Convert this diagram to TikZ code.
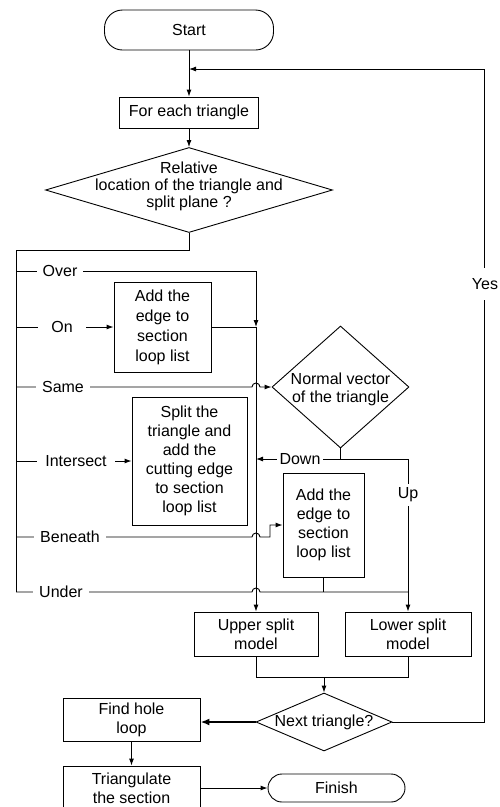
\documentclass[tikz,border=0pt]{standalone}
\usepackage{fontspec}
\setmainfont{Liberation Sans}
\usetikzlibrary{arrows.meta,shapes.geometric,calc}
\begin{document}
\begin{tikzpicture}[x=1pt,y=-1pt,
  font=\fontsize{16}{19}\selectfont,
  ln/.style={line width=0.9pt},
  arr/.style={ln,-{Latex[length=7pt,width=5pt]}},
  box/.style={draw,ln,inner sep=0pt,align=center},
  term/.style={box,rounded corners=18pt},
  dia/.style={draw,ln,diamond,inner sep=0pt},
  txt/.style={inner sep=0pt,align=center},
  lab/.style={fill=white,inner ysep=1pt,inner xsep=6pt},
]
\useasboundingbox (0,0) rectangle (499,807);
\clip (0,0) rectangle (499,807);

% nodes
\node[term,minimum width=169pt,minimum height=40pt] (start) at (189,30) {Start};
\node[box,minimum width=139pt,minimum height=31pt] (each) at (189,112.5) {For each triangle};
\node[dia,minimum width=287pt,minimum height=85pt] (rel) at (189,190) {};
\node[txt,font=\fontsize{16}{17}\selectfont] (relt) at (189,186) {Relative\\location of the triangle and\\split plane ?};
\node[box,minimum width=97pt,minimum height=90pt,font=\fontsize{16}{20}\selectfont] (add1) at (162.5,327) {Add the\\edge to\\section\\loop list};
\node[dia,minimum width=137pt,minimum height=122pt] (norm) at (340.5,387) {};
\node[txt,font=\fontsize{16}{18}\selectfont] (normt) at (340.5,389) {Normal vector\\of the triangle};
\node[box,minimum width=115pt,minimum height=128pt] (split) at (189.5,461) {Split the\\triangle and\\add the\\cutting edge\\to section\\loop list};
\node[box,minimum width=81pt,minimum height=104pt] (add2) at (323.5,525) {Add the\\edge to\\section\\loop list};
\node[box,minimum width=124pt,minimum height=44pt] (upper) at (256,634) {Upper split\\model};
\node[box,minimum width=126pt,minimum height=44pt] (lower) at (408,634) {Lower split\\model};
\node[dia,minimum width=136pt,minimum height=58pt] (next) at (324,722) {};
\node[txt] (nextt) at (324,722) {Next triangle?};
\node[box,minimum width=137pt,minimum height=43pt] (hole) at (131.5,719.5) {Find hole\\loop};
\node[box,minimum width=137pt,minimum height=44pt] (tri) at (131.5,788) {Triangulate\\the section};
\node[term,minimum width=137pt,minimum height=28pt,rounded corners=14pt] (fin) at (336.5,788) {Finish};

% coordinates
\coordinate (ret) at (189,69);
\coordinate (bt) at (189,250);
\coordinate (bl) at (16,250);
\coordinate (bb) at (16,592);
\coordinate (ov) at (16,271);
\coordinate (oc) at (256,271);
\coordinate (vj) at (256,327);
\coordinate (dj) at (340.5,459);
\coordinate (bj) at (270,537);
\coordinate (mj) at (324,677);
\coordinate (yr) at (484,722);

% connectors
\draw[ln] (start.south) -- (ret);
\draw[arr] (ret) -- (each.north);
\draw[arr] (each.south) -- (rel.north);
\draw[ln] (rel.south) -- (bt) -- (bl) -- (bb);

\draw[arr] (ov) -- (oc) -- (vj);
\draw[arr] (vj) -- (upper.north);
\draw[arr] (bl |- add1.west) -- (add1.west);
\draw[ln] (add1.east) -- (vj);
\draw[arr] (bl |- norm.west) -- ($(vj |- norm.west)+(-4,0)$) arc[start angle=180,end angle=0,radius=4pt] -- (norm.west);
\draw[arr] (bl |- split.west) -- (split.west);
\draw[arr] (norm.south) -- (dj) -- (vj |- dj);
\draw[arr] (dj) -- (lower.north |- dj) -- (lower.north);
\draw[arr] (bl |- bj) -- ($(vj |- bj)+(-4,0)$) arc[start angle=180,end angle=0,radius=4pt] -- (bj) -- (bj |- add2.west) -- (add2.west);
\draw[ln] (bb) -- ($(vj |- bb)+(-4,0)$) arc[start angle=180,end angle=0,radius=4pt] -- (lower.north |- bb);
\draw[ln] (add2.south) -- (add2.south |- bb);

\draw[ln] (upper.south) -- (upper.south |- mj) -- (lower.south |- mj) -- (lower.south);
\draw[arr] (mj) -- (next.north);
\draw[line width=1.8pt,-{Latex[length=9pt,width=7pt]}] (next.west) -- (next.west -| hole.east);
\draw[arr] (hole.south) -- (tri.north);
\draw[arr] (tri.east) -- (fin.west);
\draw[arr] (next.east) -- (yr) -- (yr |- ret) -- (ret);

% labels
\node[lab] (lover) at (60,271) {Over};
\node[lab,inner xsep=13pt] (lon) at (62,327) {On};
\node[lab] (lsame) at (63,387) {Same};
\node[lab,inner xsep=8pt] (linter) at (76,461) {Intersect};
\node[lab] (lbeneath) at (70,537) {Beneath};
\node[lab] (lunder) at (61,592) {Under};
\node[lab,inner xsep=3pt] (ldown) at (300,459) {Down};
\node[lab,inner ysep=4pt] (lup) at (408,495) {Up};
\node[lab,inner ysep=10pt,inner xsep=2pt] (lyes) at (485,284) {Yes};
\end{tikzpicture}
\end{document}
